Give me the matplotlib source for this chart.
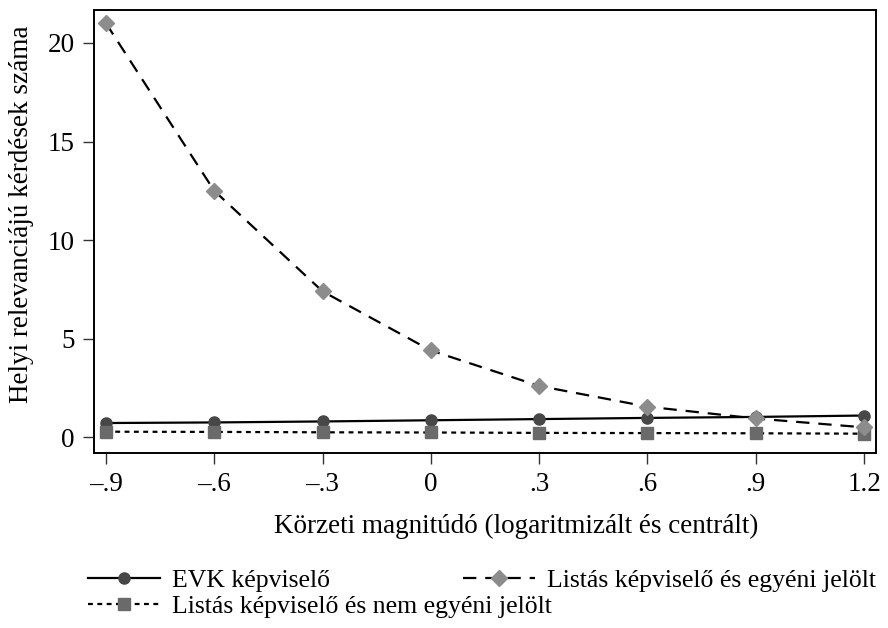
import numpy as np
import matplotlib.pyplot as plt

plt.rcParams['font.family'] = ['Liberation Serif', 'DejaVu Serif']

# magnitude values (x) and predicted counts for the three groups
magnitude = [-0.9, -0.6, -0.3, 0.0, 0.3, 0.6, 0.9, 1.2]
tick_labels = ['\u2013.9', '\u2013.6', '\u2013.3', '0', '.3', '.6', '.9', '1.2']
evk = [0.72, 0.75, 0.80, 0.86, 0.92, 0.98, 1.03, 1.10]
listas_egyeni = [21.0, 12.5, 7.4, 4.4, 2.6, 1.55, 0.95, 0.50]
listas_nem = [0.28, 0.27, 0.25, 0.24, 0.22, 0.21, 0.20, 0.18]

fs = 19.5

fig = plt.figure(figsize=(8.88, 6.28), dpi=100)
ax = fig.add_axes([94 / 888, 1 - 453 / 628, 782 / 888, 443 / 628])

l_evk, = ax.plot(magnitude, evk, color='black', lw=1.6, marker='o', ms=8,
                 mfc='#474747', mec='#474747', label='EVK képviselő', zorder=3)
l_egy, = ax.plot(magnitude, listas_egyeni, color='black', lw=1.6, ls=(0, (6, 4)),
                 marker='D', ms=8, mfc='#8c8c8c', mec='#8c8c8c',
                 label='Listás képviselő és egyéni jelölt', zorder=4)
l_nem, = ax.plot(magnitude, listas_nem, color='black', lw=1.6, ls=(0, (2.2, 2)),
                 marker='s', ms=8, mfc='#6a6a6a', mec='#6a6a6a',
                 label='Listás képviselő és nem egyéni jelölt', zorder=3)

ax.set_xlim(-0.933, 1.233)
ax.set_ylim(-0.80, 21.67)
ax.set_xticks(magnitude)
ax.set_xticklabels(tick_labels)
ax.set_yticks([0, 5, 10, 15, 20])
ax.tick_params(direction='out', length=8, width=1, labelsize=fs, pad=6, color='#333333')
for s in ax.spines.values():
    s.set_linewidth(1.4)

ax.set_xlabel('Körzeti magnitúdó (logaritmizált és centrált)', fontsize=fs, labelpad=12, x=0.54)
ax.set_ylabel('Helyi relevanciájú kérdések száma', fontsize=fs, labelpad=10, y=0.54)

# legend: two separate blocks, Stata-like placement
leg_kw = dict(frameon=False, fontsize=18.5, handlelength=2.8, handletextpad=0.45,
              labelspacing=0.12, borderaxespad=0, borderpad=0, loc='upper left')
fig.legend([l_evk, l_nem], [l_evk.get_label(), l_nem.get_label()],
           bbox_to_anchor=(88 / 888, 1 - 569 / 628), **leg_kw)
fig.legend([l_egy], [l_egy.get_label()],
           bbox_to_anchor=(463 / 888, 1 - 569 / 628), **leg_kw)

fig.savefig('out.png', dpi=100)
